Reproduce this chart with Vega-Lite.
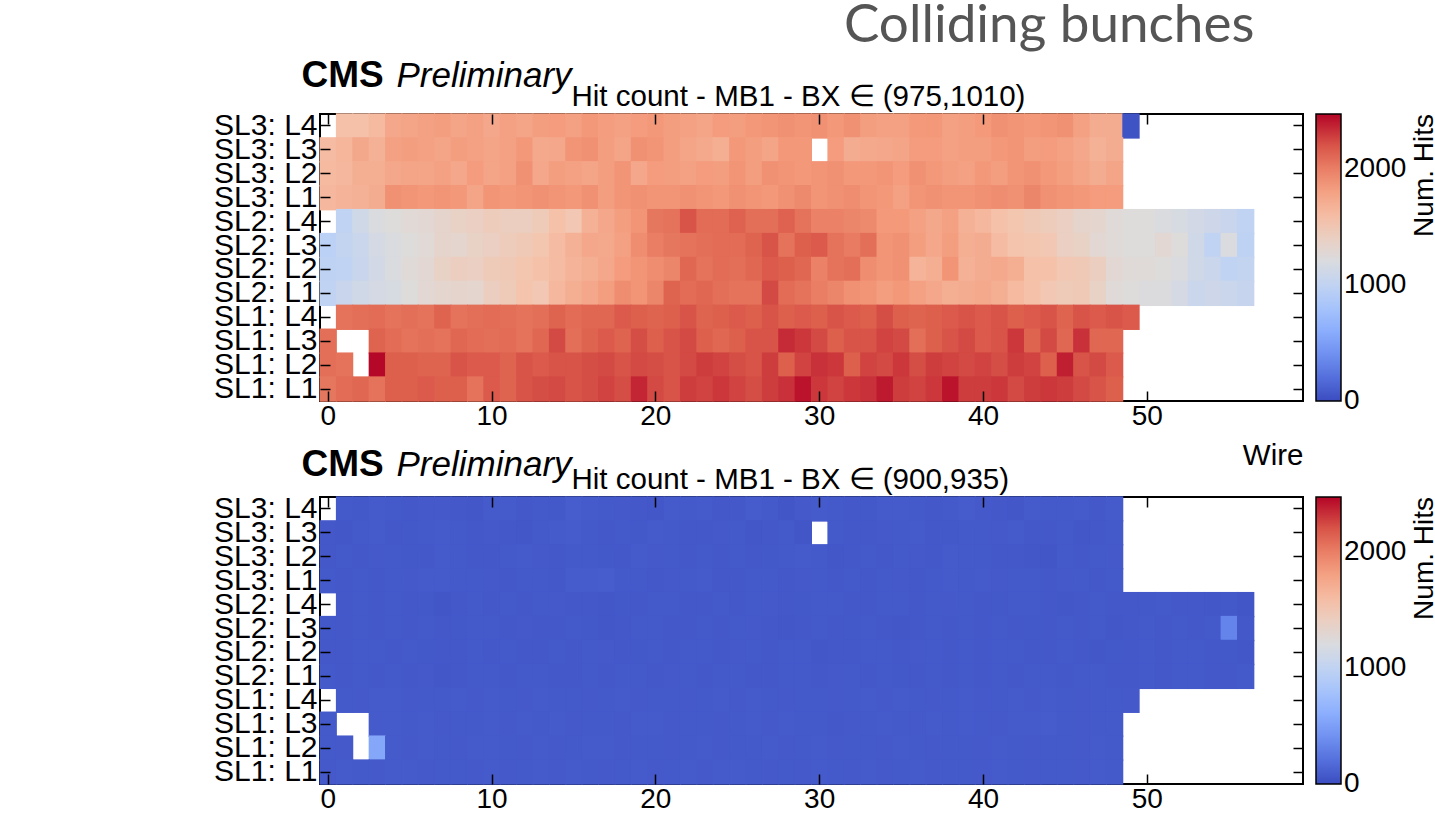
{
"$schema":"https://vega.github.io/schema/vega-lite/v6.json",
"background":"white",
"padding":{"left":212,"top":0,"right":0,"bottom":0},
"title":{"text":"Colliding bunches","font":"Lato","fontSize":53,"fontWeight":"normal","color":"#555555","anchor":"start","frame":"group","dx":524,"offset":2},
"config":{"font":"Liberation Sans","view":{"stroke":"black","strokeWidth":2},"axis":{"labelFont":"Liberation Sans","labelFontSize":28,"labelColor":"black","titleFont":"Liberation Sans","titleFontSize":29.5,"titleFontWeight":"normal","titleColor":"black","domain":false,"grid":false,"ticks":true,"tickColor":"black","tickWidth":1.5,"tickSize":-10}},
"spacing":96,
"bounds":"flush",
"resolve":{"scale":{"color":"independent"}},
"datasets":{
"a":[
{"r":11,"w":1,"v":1560},{"r":11,"w":2,"v":1560},{"r":11,"w":3,"v":1620},{"r":11,"w":4,"v":1760},{"r":11,"w":5,"v":1780},{"r":11,"w":6,"v":1800},{"r":11,"w":7,"v":1820},{"r":11,"w":8,"v":1780},{"r":11,"w":9,"v":1800},{"r":11,"w":10,"v":1760},{"r":11,"w":11,"v":1800},{"r":11,"w":12,"v":1780},{"r":11,"w":13,"v":1820},{"r":11,"w":14,"v":1840},{"r":11,"w":15,"v":1800},{"r":11,"w":16,"v":1860},{"r":11,"w":17,"v":1830},{"r":11,"w":18,"v":1800},{"r":11,"w":19,"v":1840},{"r":11,"w":20,"v":1860},{"r":11,"w":21,"v":1820},{"r":11,"w":22,"v":1800},{"r":11,"w":23,"v":1780},{"r":11,"w":24,"v":1840},{"r":11,"w":25,"v":1820},{"r":11,"w":26,"v":1860},{"r":11,"w":27,"v":1880},{"r":11,"w":28,"v":1900},{"r":11,"w":29,"v":1880},{"r":11,"w":30,"v":1900},{"r":11,"w":31,"v":1860},{"r":11,"w":32,"v":1900},{"r":11,"w":33,"v":1820},{"r":11,"w":34,"v":1800},{"r":11,"w":35,"v":1800},{"r":11,"w":36,"v":1850},{"r":11,"w":37,"v":1860},{"r":11,"w":38,"v":1800},{"r":11,"w":39,"v":1820},{"r":11,"w":40,"v":1850},{"r":11,"w":41,"v":1900},{"r":11,"w":42,"v":1880},{"r":11,"w":43,"v":1860},{"r":11,"w":44,"v":1880},{"r":11,"w":45,"v":1900},{"r":11,"w":46,"v":1800},{"r":11,"w":47,"v":1720},{"r":11,"w":48,"v":1720},{"r":11,"w":49,"v":40},
{"r":10,"w":0,"v":1600},{"r":10,"w":1,"v":1650},{"r":10,"w":2,"v":1750},{"r":10,"w":3,"v":1680},{"r":10,"w":4,"v":1800},{"r":10,"w":5,"v":1820},{"r":10,"w":6,"v":1800},{"r":10,"w":7,"v":1780},{"r":10,"w":8,"v":1820},{"r":10,"w":9,"v":1800},{"r":10,"w":10,"v":1780},{"r":10,"w":11,"v":1800},{"r":10,"w":12,"v":1860},{"r":10,"w":13,"v":1740},{"r":10,"w":14,"v":1760},{"r":10,"w":15,"v":1880},{"r":10,"w":16,"v":1900},{"r":10,"w":17,"v":1820},{"r":10,"w":18,"v":1780},{"r":10,"w":19,"v":1900},{"r":10,"w":20,"v":1880},{"r":10,"w":21,"v":1820},{"r":10,"w":22,"v":1780},{"r":10,"w":23,"v":1740},{"r":10,"w":24,"v":1700},{"r":10,"w":25,"v":1860},{"r":10,"w":26,"v":1820},{"r":10,"w":27,"v":1780},{"r":10,"w":28,"v":1860},{"r":10,"w":29,"v":1860},{"r":10,"w":31,"v":1840},{"r":10,"w":32,"v":1720},{"r":10,"w":33,"v":1740},{"r":10,"w":34,"v":1760},{"r":10,"w":35,"v":1780},{"r":10,"w":36,"v":1840},{"r":10,"w":37,"v":1840},{"r":10,"w":38,"v":1800},{"r":10,"w":39,"v":1820},{"r":10,"w":40,"v":1820},{"r":10,"w":41,"v":1860},{"r":10,"w":42,"v":1880},{"r":10,"w":43,"v":1820},{"r":10,"w":44,"v":1840},{"r":10,"w":45,"v":1800},{"r":10,"w":46,"v":1760},{"r":10,"w":47,"v":1680},{"r":10,"w":48,"v":1720},
{"r":9,"w":0,"v":1620},{"r":9,"w":1,"v":1640},{"r":9,"w":2,"v":1700},{"r":9,"w":3,"v":1700},{"r":9,"w":4,"v":1760},{"r":9,"w":5,"v":1780},{"r":9,"w":6,"v":1780},{"r":9,"w":7,"v":1800},{"r":9,"w":8,"v":1760},{"r":9,"w":9,"v":1840},{"r":9,"w":10,"v":1780},{"r":9,"w":11,"v":1800},{"r":9,"w":12,"v":1900},{"r":9,"w":13,"v":1760},{"r":9,"w":14,"v":1820},{"r":9,"w":15,"v":1800},{"r":9,"w":16,"v":1780},{"r":9,"w":17,"v":1820},{"r":9,"w":18,"v":1880},{"r":9,"w":19,"v":1760},{"r":9,"w":20,"v":1840},{"r":9,"w":21,"v":1820},{"r":9,"w":22,"v":1800},{"r":9,"w":23,"v":1840},{"r":9,"w":24,"v":1820},{"r":9,"w":25,"v":1880},{"r":9,"w":26,"v":1820},{"r":9,"w":27,"v":1900},{"r":9,"w":28,"v":1880},{"r":9,"w":29,"v":1860},{"r":9,"w":30,"v":1880},{"r":9,"w":31,"v":1900},{"r":9,"w":32,"v":1860},{"r":9,"w":33,"v":1860},{"r":9,"w":34,"v":1880},{"r":9,"w":35,"v":1840},{"r":9,"w":36,"v":1900},{"r":9,"w":37,"v":1860},{"r":9,"w":38,"v":1820},{"r":9,"w":39,"v":1800},{"r":9,"w":40,"v":1860},{"r":9,"w":41,"v":1820},{"r":9,"w":42,"v":1880},{"r":9,"w":43,"v":1900},{"r":9,"w":44,"v":1860},{"r":9,"w":45,"v":1820},{"r":9,"w":46,"v":1780},{"r":9,"w":47,"v":1720},{"r":9,"w":48,"v":1780},
{"r":8,"w":0,"v":1640},{"r":8,"w":1,"v":1660},{"r":8,"w":2,"v":1680},{"r":8,"w":3,"v":1720},{"r":8,"w":4,"v":1900},{"r":8,"w":5,"v":1880},{"r":8,"w":6,"v":1860},{"r":8,"w":7,"v":1880},{"r":8,"w":8,"v":1860},{"r":8,"w":9,"v":1780},{"r":8,"w":10,"v":1880},{"r":8,"w":11,"v":1860},{"r":8,"w":12,"v":1880},{"r":8,"w":13,"v":1900},{"r":8,"w":14,"v":1880},{"r":8,"w":15,"v":1860},{"r":8,"w":16,"v":1900},{"r":8,"w":17,"v":1820},{"r":8,"w":18,"v":1880},{"r":8,"w":19,"v":1900},{"r":8,"w":20,"v":1880},{"r":8,"w":21,"v":1880},{"r":8,"w":22,"v":1900},{"r":8,"w":23,"v":1880},{"r":8,"w":24,"v":1860},{"r":8,"w":25,"v":1900},{"r":8,"w":26,"v":1880},{"r":8,"w":27,"v":1860},{"r":8,"w":28,"v":1900},{"r":8,"w":29,"v":1940},{"r":8,"w":30,"v":1880},{"r":8,"w":31,"v":1900},{"r":8,"w":32,"v":1920},{"r":8,"w":33,"v":1880},{"r":8,"w":34,"v":1860},{"r":8,"w":35,"v":1800},{"r":8,"w":36,"v":1880},{"r":8,"w":37,"v":1900},{"r":8,"w":38,"v":1880},{"r":8,"w":39,"v":1880},{"r":8,"w":40,"v":1900},{"r":8,"w":41,"v":1920},{"r":8,"w":42,"v":1900},{"r":8,"w":43,"v":1960},{"r":8,"w":44,"v":1900},{"r":8,"w":45,"v":1880},{"r":8,"w":46,"v":1860},{"r":8,"w":47,"v":1840},{"r":8,"w":48,"v":1840},
{"r":7,"w":1,"v":1000},{"r":7,"w":2,"v":1120},{"r":7,"w":3,"v":1200},{"r":7,"w":4,"v":1240},{"r":7,"w":5,"v":1280},{"r":7,"w":6,"v":1300},{"r":7,"w":7,"v":1340},{"r":7,"w":8,"v":1380},{"r":7,"w":9,"v":1400},{"r":7,"w":10,"v":1440},{"r":7,"w":11,"v":1420},{"r":7,"w":12,"v":1420},{"r":7,"w":13,"v":1460},{"r":7,"w":14,"v":1560},{"r":7,"w":15,"v":1500},{"r":7,"w":16,"v":1680},{"r":7,"w":17,"v":1760},{"r":7,"w":18,"v":1820},{"r":7,"w":19,"v":1880},{"r":7,"w":20,"v":2040},{"r":7,"w":21,"v":2060},{"r":7,"w":22,"v":2200},{"r":7,"w":23,"v":2100},{"r":7,"w":24,"v":2100},{"r":7,"w":25,"v":2150},{"r":7,"w":26,"v":2080},{"r":7,"w":27,"v":2080},{"r":7,"w":28,"v":2150},{"r":7,"w":29,"v":2060},{"r":7,"w":30,"v":1980},{"r":7,"w":31,"v":1980},{"r":7,"w":32,"v":1960},{"r":7,"w":33,"v":1940},{"r":7,"w":34,"v":1850},{"r":7,"w":35,"v":1850},{"r":7,"w":36,"v":1800},{"r":7,"w":37,"v":1750},{"r":7,"w":38,"v":1800},{"r":7,"w":39,"v":1680},{"r":7,"w":40,"v":1640},{"r":7,"w":41,"v":1560},{"r":7,"w":42,"v":1520},{"r":7,"w":43,"v":1480},{"r":7,"w":44,"v":1440},{"r":7,"w":45,"v":1400},{"r":7,"w":46,"v":1340},{"r":7,"w":47,"v":1320},{"r":7,"w":48,"v":1260},{"r":7,"w":49,"v":1240},{"r":7,"w":50,"v":1240},{"r":7,"w":51,"v":1200},{"r":7,"w":52,"v":1180},{"r":7,"w":53,"v":1140},{"r":7,"w":54,"v":1100},{"r":7,"w":55,"v":1060},{"r":7,"w":56,"v":1000},
{"r":6,"w":0,"v":960},{"r":6,"w":1,"v":1020},{"r":6,"w":2,"v":1080},{"r":6,"w":3,"v":1160},{"r":6,"w":4,"v":1200},{"r":6,"w":5,"v":1240},{"r":6,"w":6,"v":1280},{"r":6,"w":7,"v":1340},{"r":6,"w":8,"v":1320},{"r":6,"w":9,"v":1380},{"r":6,"w":10,"v":1400},{"r":6,"w":11,"v":1440},{"r":6,"w":12,"v":1480},{"r":6,"w":13,"v":1520},{"r":6,"w":14,"v":1600},{"r":6,"w":15,"v":1680},{"r":6,"w":16,"v":1760},{"r":6,"w":17,"v":1740},{"r":6,"w":18,"v":1800},{"r":6,"w":19,"v":1920},{"r":6,"w":20,"v":2000},{"r":6,"w":21,"v":2040},{"r":6,"w":22,"v":2060},{"r":6,"w":23,"v":2080},{"r":6,"w":24,"v":2100},{"r":6,"w":25,"v":2100},{"r":6,"w":26,"v":2140},{"r":6,"w":27,"v":2200},{"r":6,"w":28,"v":2060},{"r":6,"w":29,"v":2160},{"r":6,"w":30,"v":2180},{"r":6,"w":31,"v":2060},{"r":6,"w":32,"v":2020},{"r":6,"w":33,"v":2080},{"r":6,"w":34,"v":1880},{"r":6,"w":35,"v":1900},{"r":6,"w":36,"v":1820},{"r":6,"w":37,"v":1760},{"r":6,"w":38,"v":1820},{"r":6,"w":39,"v":1700},{"r":6,"w":40,"v":1720},{"r":6,"w":41,"v":1600},{"r":6,"w":42,"v":1540},{"r":6,"w":43,"v":1520},{"r":6,"w":44,"v":1500},{"r":6,"w":45,"v":1400},{"r":6,"w":46,"v":1380},{"r":6,"w":47,"v":1300},{"r":6,"w":48,"v":1260},{"r":6,"w":49,"v":1240},{"r":6,"w":50,"v":1240},{"r":6,"w":51,"v":1300},{"r":6,"w":52,"v":1240},{"r":6,"w":53,"v":1120},{"r":6,"w":54,"v":1000},{"r":6,"w":55,"v":1200},{"r":6,"w":56,"v":980},
{"r":5,"w":0,"v":980},{"r":5,"w":1,"v":1000},{"r":5,"w":2,"v":1060},{"r":5,"w":3,"v":1140},{"r":5,"w":4,"v":1200},{"r":5,"w":5,"v":1260},{"r":5,"w":6,"v":1300},{"r":5,"w":7,"v":1380},{"r":5,"w":8,"v":1420},{"r":5,"w":9,"v":1400},{"r":5,"w":10,"v":1460},{"r":5,"w":11,"v":1480},{"r":5,"w":12,"v":1520},{"r":5,"w":13,"v":1560},{"r":5,"w":14,"v":1600},{"r":5,"w":15,"v":1660},{"r":5,"w":16,"v":1700},{"r":5,"w":17,"v":1760},{"r":5,"w":18,"v":1840},{"r":5,"w":19,"v":1880},{"r":5,"w":20,"v":1920},{"r":5,"w":21,"v":1960},{"r":5,"w":22,"v":2120},{"r":5,"w":23,"v":2060},{"r":5,"w":24,"v":2100},{"r":5,"w":25,"v":2080},{"r":5,"w":26,"v":2120},{"r":5,"w":27,"v":2180},{"r":5,"w":28,"v":2160},{"r":5,"w":29,"v":2120},{"r":5,"w":30,"v":1980},{"r":5,"w":31,"v":2060},{"r":5,"w":32,"v":2080},{"r":5,"w":33,"v":1920},{"r":5,"w":34,"v":1880},{"r":5,"w":35,"v":1900},{"r":5,"w":36,"v":1660},{"r":5,"w":37,"v":1700},{"r":5,"w":38,"v":1880},{"r":5,"w":39,"v":1680},{"r":5,"w":40,"v":1720},{"r":5,"w":41,"v":1740},{"r":5,"w":42,"v":1700},{"r":5,"w":43,"v":1560},{"r":5,"w":44,"v":1560},{"r":5,"w":45,"v":1500},{"r":5,"w":46,"v":1480},{"r":5,"w":47,"v":1420},{"r":5,"w":48,"v":1300},{"r":5,"w":49,"v":1260},{"r":5,"w":50,"v":1260},{"r":5,"w":51,"v":1240},{"r":5,"w":52,"v":1200},{"r":5,"w":53,"v":1120},{"r":5,"w":54,"v":1080},{"r":5,"w":55,"v":1000},{"r":5,"w":56,"v":1020},
{"r":4,"w":0,"v":1000},{"r":4,"w":1,"v":1060},{"r":4,"w":2,"v":1120},{"r":4,"w":3,"v":1160},{"r":4,"w":4,"v":1180},{"r":4,"w":5,"v":1240},{"r":4,"w":6,"v":1300},{"r":4,"w":7,"v":1320},{"r":4,"w":8,"v":1340},{"r":4,"w":9,"v":1320},{"r":4,"w":10,"v":1420},{"r":4,"w":11,"v":1460},{"r":4,"w":12,"v":1540},{"r":4,"w":13,"v":1500},{"r":4,"w":14,"v":1640},{"r":4,"w":15,"v":1700},{"r":4,"w":16,"v":1760},{"r":4,"w":17,"v":1820},{"r":4,"w":18,"v":1920},{"r":4,"w":19,"v":1880},{"r":4,"w":20,"v":1960},{"r":4,"w":21,"v":2140},{"r":4,"w":22,"v":2100},{"r":4,"w":23,"v":2120},{"r":4,"w":24,"v":2080},{"r":4,"w":25,"v":2060},{"r":4,"w":26,"v":2060},{"r":4,"w":27,"v":2240},{"r":4,"w":28,"v":2100},{"r":4,"w":29,"v":2060},{"r":4,"w":30,"v":2000},{"r":4,"w":31,"v":1960},{"r":4,"w":32,"v":1900},{"r":4,"w":33,"v":1880},{"r":4,"w":34,"v":1820},{"r":4,"w":35,"v":1860},{"r":4,"w":36,"v":1800},{"r":4,"w":37,"v":1760},{"r":4,"w":38,"v":1700},{"r":4,"w":39,"v":1720},{"r":4,"w":40,"v":1740},{"r":4,"w":41,"v":1700},{"r":4,"w":42,"v":1620},{"r":4,"w":43,"v":1560},{"r":4,"w":44,"v":1500},{"r":4,"w":45,"v":1460},{"r":4,"w":46,"v":1480},{"r":4,"w":47,"v":1380},{"r":4,"w":48,"v":1260},{"r":4,"w":49,"v":1240},{"r":4,"w":50,"v":1220},{"r":4,"w":51,"v":1220},{"r":4,"w":52,"v":1160},{"r":4,"w":53,"v":1080},{"r":4,"w":54,"v":1100},{"r":4,"w":55,"v":1080},{"r":4,"w":56,"v":1040},
{"r":3,"w":1,"v":2060},{"r":3,"w":2,"v":2080},{"r":3,"w":3,"v":2100},{"r":3,"w":4,"v":2060},{"r":3,"w":5,"v":2080},{"r":3,"w":6,"v":2060},{"r":3,"w":7,"v":2140},{"r":3,"w":8,"v":2060},{"r":3,"w":9,"v":2080},{"r":3,"w":10,"v":2100},{"r":3,"w":11,"v":2080},{"r":3,"w":12,"v":2060},{"r":3,"w":13,"v":2080},{"r":3,"w":14,"v":2140},{"r":3,"w":15,"v":2100},{"r":3,"w":16,"v":2120},{"r":3,"w":17,"v":2120},{"r":3,"w":18,"v":2180},{"r":3,"w":19,"v":2160},{"r":3,"w":20,"v":2140},{"r":3,"w":21,"v":2160},{"r":3,"w":22,"v":2200},{"r":3,"w":23,"v":2140},{"r":3,"w":24,"v":2160},{"r":3,"w":25,"v":2180},{"r":3,"w":26,"v":2160},{"r":3,"w":27,"v":2200},{"r":3,"w":28,"v":2160},{"r":3,"w":29,"v":2180},{"r":3,"w":30,"v":2160},{"r":3,"w":31,"v":2200},{"r":3,"w":32,"v":2180},{"r":3,"w":33,"v":2160},{"r":3,"w":34,"v":2220},{"r":3,"w":35,"v":2160},{"r":3,"w":36,"v":2140},{"r":3,"w":37,"v":2160},{"r":3,"w":38,"v":2180},{"r":3,"w":39,"v":2200},{"r":3,"w":40,"v":2180},{"r":3,"w":41,"v":2200},{"r":3,"w":42,"v":2160},{"r":3,"w":43,"v":2180},{"r":3,"w":44,"v":2200},{"r":3,"w":45,"v":2140},{"r":3,"w":46,"v":2200},{"r":3,"w":47,"v":2180},{"r":3,"w":48,"v":2200},{"r":3,"w":49,"v":2180},
{"r":2,"w":0,"v":2080},{"r":2,"w":3,"v":2140},{"r":2,"w":4,"v":2100},{"r":2,"w":5,"v":2060},{"r":2,"w":6,"v":2080},{"r":2,"w":7,"v":2060},{"r":2,"w":8,"v":2120},{"r":2,"w":9,"v":2100},{"r":2,"w":10,"v":2080},{"r":2,"w":11,"v":2100},{"r":2,"w":12,"v":2060},{"r":2,"w":13,"v":2120},{"r":2,"w":14,"v":2240},{"r":2,"w":15,"v":2080},{"r":2,"w":16,"v":2140},{"r":2,"w":17,"v":2180},{"r":2,"w":18,"v":2140},{"r":2,"w":19,"v":2220},{"r":2,"w":20,"v":2160},{"r":2,"w":21,"v":2200},{"r":2,"w":22,"v":2240},{"r":2,"w":23,"v":2160},{"r":2,"w":24,"v":2120},{"r":2,"w":25,"v":2160},{"r":2,"w":26,"v":2200},{"r":2,"w":27,"v":2200},{"r":2,"w":28,"v":2340},{"r":2,"w":29,"v":2300},{"r":2,"w":30,"v":2240},{"r":2,"w":31,"v":2160},{"r":2,"w":32,"v":2200},{"r":2,"w":33,"v":2200},{"r":2,"w":34,"v":2260},{"r":2,"w":35,"v":2240},{"r":2,"w":36,"v":2080},{"r":2,"w":37,"v":2160},{"r":2,"w":38,"v":2200},{"r":2,"w":39,"v":2240},{"r":2,"w":40,"v":2180},{"r":2,"w":41,"v":2200},{"r":2,"w":42,"v":2300},{"r":2,"w":43,"v":2140},{"r":2,"w":44,"v":2240},{"r":2,"w":45,"v":2120},{"r":2,"w":46,"v":2320},{"r":2,"w":47,"v":2120},{"r":2,"w":48,"v":2120},
{"r":1,"w":0,"v":2080},{"r":1,"w":1,"v":2060},{"r":1,"w":3,"v":2460},{"r":1,"w":4,"v":2160},{"r":1,"w":5,"v":2160},{"r":1,"w":6,"v":2140},{"r":1,"w":7,"v":2140},{"r":1,"w":8,"v":2200},{"r":1,"w":9,"v":2180},{"r":1,"w":10,"v":2180},{"r":1,"w":11,"v":2140},{"r":1,"w":12,"v":2200},{"r":1,"w":13,"v":2180},{"r":1,"w":14,"v":2200},{"r":1,"w":15,"v":2200},{"r":1,"w":16,"v":2220},{"r":1,"w":17,"v":2240},{"r":1,"w":18,"v":2200},{"r":1,"w":19,"v":2240},{"r":1,"w":20,"v":2220},{"r":1,"w":21,"v":2200},{"r":1,"w":22,"v":2240},{"r":1,"w":23,"v":2280},{"r":1,"w":24,"v":2260},{"r":1,"w":25,"v":2220},{"r":1,"w":26,"v":2200},{"r":1,"w":27,"v":2280},{"r":1,"w":28,"v":2160},{"r":1,"w":29,"v":2260},{"r":1,"w":30,"v":2320},{"r":1,"w":31,"v":2300},{"r":1,"w":32,"v":2160},{"r":1,"w":33,"v":2260},{"r":1,"w":34,"v":2240},{"r":1,"w":35,"v":2300},{"r":1,"w":36,"v":2220},{"r":1,"w":37,"v":2280},{"r":1,"w":38,"v":2260},{"r":1,"w":39,"v":2240},{"r":1,"w":40,"v":2260},{"r":1,"w":41,"v":2220},{"r":1,"w":42,"v":2280},{"r":1,"w":43,"v":2260},{"r":1,"w":44,"v":2160},{"r":1,"w":45,"v":2380},{"r":1,"w":46,"v":2200},{"r":1,"w":47,"v":2240},{"r":1,"w":48,"v":2180},
{"r":0,"w":0,"v":2040},{"r":0,"w":1,"v":2100},{"r":0,"w":2,"v":2120},{"r":0,"w":3,"v":2060},{"r":0,"w":4,"v":2160},{"r":0,"w":5,"v":2160},{"r":0,"w":6,"v":2180},{"r":0,"w":7,"v":2160},{"r":0,"w":8,"v":2160},{"r":0,"w":9,"v":2060},{"r":0,"w":10,"v":2180},{"r":0,"w":11,"v":2140},{"r":0,"w":12,"v":2200},{"r":0,"w":13,"v":2220},{"r":0,"w":14,"v":2240},{"r":0,"w":15,"v":2200},{"r":0,"w":16,"v":2220},{"r":0,"w":17,"v":2260},{"r":0,"w":18,"v":2220},{"r":0,"w":19,"v":2360},{"r":0,"w":20,"v":2240},{"r":0,"w":21,"v":2200},{"r":0,"w":22,"v":2280},{"r":0,"w":23,"v":2260},{"r":0,"w":24,"v":2300},{"r":0,"w":25,"v":2260},{"r":0,"w":26,"v":2220},{"r":0,"w":27,"v":2280},{"r":0,"w":28,"v":2320},{"r":0,"w":29,"v":2420},{"r":0,"w":30,"v":2300},{"r":0,"w":31,"v":2260},{"r":0,"w":32,"v":2300},{"r":0,"w":33,"v":2320},{"r":0,"w":34,"v":2400},{"r":0,"w":35,"v":2280},{"r":0,"w":36,"v":2260},{"r":0,"w":37,"v":2300},{"r":0,"w":38,"v":2420},{"r":0,"w":39,"v":2280},{"r":0,"w":40,"v":2280},{"r":0,"w":41,"v":2300},{"r":0,"w":42,"v":2240},{"r":0,"w":43,"v":2280},{"r":0,"w":44,"v":2300},{"r":0,"w":45,"v":2280},{"r":0,"w":46,"v":2240},{"r":0,"w":47,"v":2200},{"r":0,"w":48,"v":2160}
],
"b":[
{"r":11,"w":1,"v":72},{"r":11,"w":2,"v":66},{"r":11,"w":3,"v":80},{"r":11,"w":4,"v":74},{"r":11,"w":5,"v":70},{"r":11,"w":6,"v":76},{"r":11,"w":7,"v":76},{"r":11,"w":8,"v":68},{"r":11,"w":9,"v":62},{"r":11,"w":10,"v":78},{"r":11,"w":11,"v":84},{"r":11,"w":12,"v":70},{"r":11,"w":13,"v":74},{"r":11,"w":14,"v":66},{"r":11,"w":15,"v":92},{"r":11,"w":16,"v":80},{"r":11,"w":17,"v":72},{"r":11,"w":18,"v":76},{"r":11,"w":19,"v":70},{"r":11,"w":20,"v":64},{"r":11,"w":21,"v":82},{"r":11,"w":22,"v":74},{"r":11,"w":23,"v":78},{"r":11,"w":24,"v":70},{"r":11,"w":25,"v":68},{"r":11,"w":26,"v":86},{"r":11,"w":27,"v":72},{"r":11,"w":28,"v":60},{"r":11,"w":29,"v":76},{"r":11,"w":30,"v":80},{"r":11,"w":31,"v":74},{"r":11,"w":32,"v":70},{"r":11,"w":33,"v":66},{"r":11,"w":34,"v":78},{"r":11,"w":35,"v":84},{"r":11,"w":36,"v":72},{"r":11,"w":37,"v":68},{"r":11,"w":38,"v":74},{"r":11,"w":39,"v":90},{"r":11,"w":40,"v":76},{"r":11,"w":41,"v":70},{"r":11,"w":42,"v":64},{"r":11,"w":43,"v":80},{"r":11,"w":44,"v":74},{"r":11,"w":45,"v":72},{"r":11,"w":46,"v":78},{"r":11,"w":47,"v":68},{"r":11,"w":48,"v":82},
{"r":10,"w":0,"v":70},{"r":10,"w":1,"v":64},{"r":10,"w":2,"v":72},{"r":10,"w":3,"v":78},{"r":10,"w":4,"v":70},{"r":10,"w":5,"v":66},{"r":10,"w":6,"v":74},{"r":10,"w":7,"v":80},{"r":10,"w":8,"v":72},{"r":10,"w":9,"v":68},{"r":10,"w":10,"v":76},{"r":10,"w":11,"v":70},{"r":10,"w":12,"v":62},{"r":10,"w":13,"v":74},{"r":10,"w":14,"v":80},{"r":10,"w":15,"v":86},{"r":10,"w":16,"v":72},{"r":10,"w":17,"v":70},{"r":10,"w":18,"v":74},{"r":10,"w":19,"v":66},{"r":10,"w":20,"v":78},{"r":10,"w":21,"v":72},{"r":10,"w":22,"v":70},{"r":10,"w":23,"v":68},{"r":10,"w":24,"v":76},{"r":10,"w":25,"v":74},{"r":10,"w":26,"v":62},{"r":10,"w":27,"v":70},{"r":10,"w":28,"v":72},{"r":10,"w":29,"v":60},{"r":10,"w":31,"v":74},{"r":10,"w":32,"v":70},{"r":10,"w":33,"v":68},{"r":10,"w":34,"v":76},{"r":10,"w":35,"v":72},{"r":10,"w":36,"v":78},{"r":10,"w":37,"v":70},{"r":10,"w":38,"v":66},{"r":10,"w":39,"v":74},{"r":10,"w":40,"v":72},{"r":10,"w":41,"v":76},{"r":10,"w":42,"v":80},{"r":10,"w":43,"v":70},{"r":10,"w":44,"v":68},{"r":10,"w":45,"v":74},{"r":10,"w":46,"v":62},{"r":10,"w":47,"v":70},{"r":10,"w":48,"v":72},
{"r":9,"w":0,"v":68},{"r":9,"w":1,"v":74},{"r":9,"w":2,"v":70},{"r":9,"w":3,"v":76},{"r":9,"w":4,"v":72},{"r":9,"w":5,"v":66},{"r":9,"w":6,"v":70},{"r":9,"w":7,"v":78},{"r":9,"w":8,"v":74},{"r":9,"w":9,"v":70},{"r":9,"w":10,"v":68},{"r":9,"w":11,"v":72},{"r":9,"w":12,"v":80},{"r":9,"w":13,"v":76},{"r":9,"w":14,"v":70},{"r":9,"w":15,"v":74},{"r":9,"w":16,"v":72},{"r":9,"w":17,"v":66},{"r":9,"w":18,"v":70},{"r":9,"w":19,"v":84},{"r":9,"w":20,"v":76},{"r":9,"w":21,"v":72},{"r":9,"w":22,"v":70},{"r":9,"w":23,"v":74},{"r":9,"w":24,"v":68},{"r":9,"w":25,"v":72},{"r":9,"w":26,"v":70},{"r":9,"w":27,"v":66},{"r":9,"w":28,"v":74},{"r":9,"w":29,"v":78},{"r":9,"w":30,"v":72},{"r":9,"w":31,"v":64},{"r":9,"w":32,"v":70},{"r":9,"w":33,"v":74},{"r":9,"w":34,"v":68},{"r":9,"w":35,"v":72},{"r":9,"w":36,"v":76},{"r":9,"w":37,"v":70},{"r":9,"w":38,"v":80},{"r":9,"w":39,"v":74},{"r":9,"w":40,"v":72},{"r":9,"w":41,"v":68},{"r":9,"w":42,"v":70},{"r":9,"w":43,"v":62},{"r":9,"w":44,"v":60},{"r":9,"w":45,"v":74},{"r":9,"w":46,"v":70},{"r":9,"w":47,"v":72},{"r":9,"w":48,"v":76},
{"r":8,"w":0,"v":74},{"r":8,"w":1,"v":70},{"r":8,"w":2,"v":72},{"r":8,"w":3,"v":68},{"r":8,"w":4,"v":74},{"r":8,"w":5,"v":76},{"r":8,"w":6,"v":80},{"r":8,"w":7,"v":78},{"r":8,"w":8,"v":72},{"r":8,"w":9,"v":74},{"r":8,"w":10,"v":76},{"r":8,"w":11,"v":70},{"r":8,"w":12,"v":72},{"r":8,"w":13,"v":74},{"r":8,"w":14,"v":70},{"r":8,"w":15,"v":88},{"r":8,"w":16,"v":90},{"r":8,"w":17,"v":92},{"r":8,"w":18,"v":72},{"r":8,"w":19,"v":74},{"r":8,"w":20,"v":70},{"r":8,"w":21,"v":76},{"r":8,"w":22,"v":72},{"r":8,"w":23,"v":78},{"r":8,"w":24,"v":70},{"r":8,"w":25,"v":68},{"r":8,"w":26,"v":74},{"r":8,"w":27,"v":72},{"r":8,"w":28,"v":70},{"r":8,"w":29,"v":76},{"r":8,"w":30,"v":74},{"r":8,"w":31,"v":70},{"r":8,"w":32,"v":72},{"r":8,"w":33,"v":68},{"r":8,"w":34,"v":74},{"r":8,"w":35,"v":76},{"r":8,"w":36,"v":70},{"r":8,"w":37,"v":72},{"r":8,"w":38,"v":80},{"r":8,"w":39,"v":74},{"r":8,"w":40,"v":78},{"r":8,"w":41,"v":76},{"r":8,"w":42,"v":72},{"r":8,"w":43,"v":74},{"r":8,"w":44,"v":70},{"r":8,"w":45,"v":76},{"r":8,"w":46,"v":72},{"r":8,"w":47,"v":70},{"r":8,"w":48,"v":74},
{"r":7,"w":1,"v":70},{"r":7,"w":2,"v":72},{"r":7,"w":3,"v":68},{"r":7,"w":4,"v":74},{"r":7,"w":5,"v":70},{"r":7,"w":6,"v":66},{"r":7,"w":7,"v":60},{"r":7,"w":8,"v":70},{"r":7,"w":9,"v":72},{"r":7,"w":10,"v":68},{"r":7,"w":11,"v":74},{"r":7,"w":12,"v":70},{"r":7,"w":13,"v":72},{"r":7,"w":14,"v":76},{"r":7,"w":15,"v":70},{"r":7,"w":16,"v":68},{"r":7,"w":17,"v":64},{"r":7,"w":18,"v":66},{"r":7,"w":19,"v":70},{"r":7,"w":20,"v":72},{"r":7,"w":21,"v":74},{"r":7,"w":22,"v":70},{"r":7,"w":23,"v":68},{"r":7,"w":24,"v":72},{"r":7,"w":25,"v":70},{"r":7,"w":26,"v":74},{"r":7,"w":27,"v":76},{"r":7,"w":28,"v":70},{"r":7,"w":29,"v":66},{"r":7,"w":30,"v":72},{"r":7,"w":31,"v":74},{"r":7,"w":32,"v":70},{"r":7,"w":33,"v":68},{"r":7,"w":34,"v":72},{"r":7,"w":35,"v":74},{"r":7,"w":36,"v":70},{"r":7,"w":37,"v":72},{"r":7,"w":38,"v":76},{"r":7,"w":39,"v":74},{"r":7,"w":40,"v":70},{"r":7,"w":41,"v":66},{"r":7,"w":42,"v":72},{"r":7,"w":43,"v":74},{"r":7,"w":44,"v":70},{"r":7,"w":45,"v":62},{"r":7,"w":46,"v":70},{"r":7,"w":47,"v":72},{"r":7,"w":48,"v":68},{"r":7,"w":49,"v":70},{"r":7,"w":50,"v":66},{"r":7,"w":51,"v":72},{"r":7,"w":52,"v":68},{"r":7,"w":53,"v":70},{"r":7,"w":54,"v":64},{"r":7,"w":55,"v":66},{"r":7,"w":56,"v":60},
{"r":6,"w":0,"v":66},{"r":6,"w":1,"v":70},{"r":6,"w":2,"v":72},{"r":6,"w":3,"v":68},{"r":6,"w":4,"v":74},{"r":6,"w":5,"v":70},{"r":6,"w":6,"v":72},{"r":6,"w":7,"v":70},{"r":6,"w":8,"v":66},{"r":6,"w":9,"v":74},{"r":6,"w":10,"v":72},{"r":6,"w":11,"v":70},{"r":6,"w":12,"v":76},{"r":6,"w":13,"v":70},{"r":6,"w":14,"v":68},{"r":6,"w":15,"v":74},{"r":6,"w":16,"v":66},{"r":6,"w":17,"v":62},{"r":6,"w":18,"v":70},{"r":6,"w":19,"v":72},{"r":6,"w":20,"v":74},{"r":6,"w":21,"v":68},{"r":6,"w":22,"v":70},{"r":6,"w":23,"v":72},{"r":6,"w":24,"v":70},{"r":6,"w":25,"v":74},{"r":6,"w":26,"v":76},{"r":6,"w":27,"v":70},{"r":6,"w":28,"v":62},{"r":6,"w":29,"v":68},{"r":6,"w":30,"v":74},{"r":6,"w":31,"v":70},{"r":6,"w":32,"v":66},{"r":6,"w":33,"v":72},{"r":6,"w":34,"v":70},{"r":6,"w":35,"v":64},{"r":6,"w":36,"v":70},{"r":6,"w":37,"v":72},{"r":6,"w":38,"v":68},{"r":6,"w":39,"v":74},{"r":6,"w":40,"v":70},{"r":6,"w":41,"v":72},{"r":6,"w":42,"v":68},{"r":6,"w":43,"v":66},{"r":6,"w":44,"v":70},{"r":6,"w":45,"v":74},{"r":6,"w":46,"v":70},{"r":6,"w":47,"v":72},{"r":6,"w":48,"v":62},{"r":6,"w":49,"v":70},{"r":6,"w":50,"v":72},{"r":6,"w":51,"v":70},{"r":6,"w":52,"v":74},{"r":6,"w":53,"v":68},{"r":6,"w":54,"v":72},{"r":6,"w":55,"v":320},{"r":6,"w":56,"v":70},
{"r":5,"w":0,"v":70},{"r":5,"w":1,"v":68},{"r":5,"w":2,"v":72},{"r":5,"w":3,"v":74},{"r":5,"w":4,"v":70},{"r":5,"w":5,"v":72},{"r":5,"w":6,"v":66},{"r":5,"w":7,"v":70},{"r":5,"w":8,"v":68},{"r":5,"w":9,"v":74},{"r":5,"w":10,"v":70},{"r":5,"w":11,"v":72},{"r":5,"w":12,"v":70},{"r":5,"w":13,"v":68},{"r":5,"w":14,"v":74},{"r":5,"w":15,"v":70},{"r":5,"w":16,"v":72},{"r":5,"w":17,"v":76},{"r":5,"w":18,"v":70},{"r":5,"w":19,"v":66},{"r":5,"w":20,"v":72},{"r":5,"w":21,"v":70},{"r":5,"w":22,"v":74},{"r":5,"w":23,"v":72},{"r":5,"w":24,"v":70},{"r":5,"w":25,"v":76},{"r":5,"w":26,"v":72},{"r":5,"w":27,"v":68},{"r":5,"w":28,"v":74},{"r":5,"w":29,"v":72},{"r":5,"w":30,"v":62},{"r":5,"w":31,"v":68},{"r":5,"w":32,"v":70},{"r":5,"w":33,"v":74},{"r":5,"w":34,"v":72},{"r":5,"w":35,"v":70},{"r":5,"w":36,"v":76},{"r":5,"w":37,"v":74},{"r":5,"w":38,"v":70},{"r":5,"w":39,"v":72},{"r":5,"w":40,"v":70},{"r":5,"w":41,"v":74},{"r":5,"w":42,"v":72},{"r":5,"w":43,"v":70},{"r":5,"w":44,"v":68},{"r":5,"w":45,"v":72},{"r":5,"w":46,"v":70},{"r":5,"w":47,"v":62},{"r":5,"w":48,"v":66},{"r":5,"w":49,"v":70},{"r":5,"w":50,"v":72},{"r":5,"w":51,"v":68},{"r":5,"w":52,"v":74},{"r":5,"w":53,"v":72},{"r":5,"w":54,"v":70},{"r":5,"w":55,"v":66},{"r":5,"w":56,"v":64},
{"r":4,"w":0,"v":72},{"r":4,"w":1,"v":70},{"r":4,"w":2,"v":74},{"r":4,"w":3,"v":68},{"r":4,"w":4,"v":72},{"r":4,"w":5,"v":70},{"r":4,"w":6,"v":76},{"r":4,"w":7,"v":62},{"r":4,"w":8,"v":70},{"r":4,"w":9,"v":72},{"r":4,"w":10,"v":74},{"r":4,"w":11,"v":70},{"r":4,"w":12,"v":72},{"r":4,"w":13,"v":74},{"r":4,"w":14,"v":70},{"r":4,"w":15,"v":68},{"r":4,"w":16,"v":72},{"r":4,"w":17,"v":70},{"r":4,"w":18,"v":74},{"r":4,"w":19,"v":72},{"r":4,"w":20,"v":70},{"r":4,"w":21,"v":76},{"r":4,"w":22,"v":72},{"r":4,"w":23,"v":70},{"r":4,"w":24,"v":74},{"r":4,"w":25,"v":72},{"r":4,"w":26,"v":68},{"r":4,"w":27,"v":70},{"r":4,"w":28,"v":74},{"r":4,"w":29,"v":72},{"r":4,"w":30,"v":70},{"r":4,"w":31,"v":76},{"r":4,"w":32,"v":72},{"r":4,"w":33,"v":70},{"r":4,"w":34,"v":74},{"r":4,"w":35,"v":66},{"r":4,"w":36,"v":70},{"r":4,"w":37,"v":72},{"r":4,"w":38,"v":68},{"r":4,"w":39,"v":74},{"r":4,"w":40,"v":70},{"r":4,"w":41,"v":72},{"r":4,"w":42,"v":70},{"r":4,"w":43,"v":74},{"r":4,"w":44,"v":72},{"r":4,"w":45,"v":70},{"r":4,"w":46,"v":72},{"r":4,"w":47,"v":74},{"r":4,"w":48,"v":70},{"r":4,"w":49,"v":68},{"r":4,"w":50,"v":72},{"r":4,"w":51,"v":70},{"r":4,"w":52,"v":74},{"r":4,"w":53,"v":72},{"r":4,"w":54,"v":68},{"r":4,"w":55,"v":70},{"r":4,"w":56,"v":72},
{"r":3,"w":1,"v":74},{"r":3,"w":2,"v":76},{"r":3,"w":3,"v":80},{"r":3,"w":4,"v":78},{"r":3,"w":5,"v":76},{"r":3,"w":6,"v":72},{"r":3,"w":7,"v":74},{"r":3,"w":8,"v":78},{"r":3,"w":9,"v":76},{"r":3,"w":10,"v":80},{"r":3,"w":11,"v":74},{"r":3,"w":12,"v":76},{"r":3,"w":13,"v":78},{"r":3,"w":14,"v":74},{"r":3,"w":15,"v":72},{"r":3,"w":16,"v":76},{"r":3,"w":17,"v":74},{"r":3,"w":18,"v":78},{"r":3,"w":19,"v":76},{"r":3,"w":20,"v":74},{"r":3,"w":21,"v":72},{"r":3,"w":22,"v":76},{"r":3,"w":23,"v":74},{"r":3,"w":24,"v":78},{"r":3,"w":25,"v":76},{"r":3,"w":26,"v":80},{"r":3,"w":27,"v":74},{"r":3,"w":28,"v":76},{"r":3,"w":29,"v":74},{"r":3,"w":30,"v":72},{"r":3,"w":31,"v":76},{"r":3,"w":32,"v":74},{"r":3,"w":33,"v":78},{"r":3,"w":34,"v":76},{"r":3,"w":35,"v":80},{"r":3,"w":36,"v":74},{"r":3,"w":37,"v":76},{"r":3,"w":38,"v":72},{"r":3,"w":39,"v":78},{"r":3,"w":40,"v":76},{"r":3,"w":41,"v":74},{"r":3,"w":42,"v":80},{"r":3,"w":43,"v":76},{"r":3,"w":44,"v":78},{"r":3,"w":45,"v":74},{"r":3,"w":46,"v":76},{"r":3,"w":47,"v":72},{"r":3,"w":48,"v":74},{"r":3,"w":49,"v":76},
{"r":2,"w":0,"v":74},{"r":2,"w":3,"v":80},{"r":2,"w":4,"v":78},{"r":2,"w":5,"v":74},{"r":2,"w":6,"v":84},{"r":2,"w":7,"v":76},{"r":2,"w":8,"v":72},{"r":2,"w":9,"v":74},{"r":2,"w":10,"v":78},{"r":2,"w":11,"v":76},{"r":2,"w":12,"v":80},{"r":2,"w":13,"v":74},{"r":2,"w":14,"v":78},{"r":2,"w":15,"v":76},{"r":2,"w":16,"v":74},{"r":2,"w":17,"v":72},{"r":2,"w":18,"v":76},{"r":2,"w":19,"v":80},{"r":2,"w":20,"v":78},{"r":2,"w":21,"v":76},{"r":2,"w":22,"v":74},{"r":2,"w":23,"v":72},{"r":2,"w":24,"v":76},{"r":2,"w":25,"v":74},{"r":2,"w":26,"v":82},{"r":2,"w":27,"v":76},{"r":2,"w":28,"v":78},{"r":2,"w":29,"v":74},{"r":2,"w":30,"v":72},{"r":2,"w":31,"v":70},{"r":2,"w":32,"v":76},{"r":2,"w":33,"v":74},{"r":2,"w":34,"v":78},{"r":2,"w":35,"v":74},{"r":2,"w":36,"v":76},{"r":2,"w":37,"v":80},{"r":2,"w":38,"v":74},{"r":2,"w":39,"v":78},{"r":2,"w":40,"v":72},{"r":2,"w":41,"v":76},{"r":2,"w":42,"v":80},{"r":2,"w":43,"v":78},{"r":2,"w":44,"v":86},{"r":2,"w":45,"v":74},{"r":2,"w":46,"v":76},{"r":2,"w":47,"v":72},{"r":2,"w":48,"v":74},
{"r":1,"w":0,"v":74},{"r":1,"w":1,"v":76},{"r":1,"w":3,"v":560},{"r":1,"w":4,"v":82},{"r":1,"w":5,"v":76},{"r":1,"w":6,"v":84},{"r":1,"w":7,"v":74},{"r":1,"w":8,"v":76},{"r":1,"w":9,"v":78},{"r":1,"w":10,"v":80},{"r":1,"w":11,"v":74},{"r":1,"w":12,"v":76},{"r":1,"w":13,"v":78},{"r":1,"w":14,"v":76},{"r":1,"w":15,"v":74},{"r":1,"w":16,"v":78},{"r":1,"w":17,"v":80},{"r":1,"w":18,"v":76},{"r":1,"w":19,"v":74},{"r":1,"w":20,"v":72},{"r":1,"w":21,"v":76},{"r":1,"w":22,"v":74},{"r":1,"w":23,"v":78},{"r":1,"w":24,"v":76},{"r":1,"w":25,"v":74},{"r":1,"w":26,"v":72},{"r":1,"w":27,"v":80},{"r":1,"w":28,"v":76},{"r":1,"w":29,"v":74},{"r":1,"w":30,"v":78},{"r":1,"w":31,"v":76},{"r":1,"w":32,"v":74},{"r":1,"w":33,"v":72},{"r":1,"w":34,"v":76},{"r":1,"w":35,"v":78},{"r":1,"w":36,"v":74},{"r":1,"w":37,"v":76},{"r":1,"w":38,"v":72},{"r":1,"w":39,"v":74},{"r":1,"w":40,"v":76},{"r":1,"w":41,"v":78},{"r":1,"w":42,"v":74},{"r":1,"w":43,"v":76},{"r":1,"w":44,"v":72},{"r":1,"w":45,"v":74},{"r":1,"w":46,"v":76},{"r":1,"w":47,"v":78},{"r":1,"w":48,"v":74},
{"r":0,"w":0,"v":76},{"r":0,"w":1,"v":78},{"r":0,"w":2,"v":74},{"r":0,"w":3,"v":76},{"r":0,"w":4,"v":80},{"r":0,"w":5,"v":78},{"r":0,"w":6,"v":76},{"r":0,"w":7,"v":74},{"r":0,"w":8,"v":72},{"r":0,"w":9,"v":76},{"r":0,"w":10,"v":78},{"r":0,"w":11,"v":76},{"r":0,"w":12,"v":74},{"r":0,"w":13,"v":80},{"r":0,"w":14,"v":76},{"r":0,"w":15,"v":78},{"r":0,"w":16,"v":74},{"r":0,"w":17,"v":76},{"r":0,"w":18,"v":72},{"r":0,"w":19,"v":78},{"r":0,"w":20,"v":76},{"r":0,"w":21,"v":74},{"r":0,"w":22,"v":78},{"r":0,"w":23,"v":76},{"r":0,"w":24,"v":80},{"r":0,"w":25,"v":78},{"r":0,"w":26,"v":74},{"r":0,"w":27,"v":76},{"r":0,"w":28,"v":72},{"r":0,"w":29,"v":76},{"r":0,"w":30,"v":78},{"r":0,"w":31,"v":74},{"r":0,"w":32,"v":76},{"r":0,"w":33,"v":80},{"r":0,"w":34,"v":76},{"r":0,"w":35,"v":74},{"r":0,"w":36,"v":78},{"r":0,"w":37,"v":76},{"r":0,"w":38,"v":72},{"r":0,"w":39,"v":74},{"r":0,"w":40,"v":76},{"r":0,"w":41,"v":78},{"r":0,"w":42,"v":74},{"r":0,"w":43,"v":76},{"r":0,"w":44,"v":72},{"r":0,"w":45,"v":74},{"r":0,"w":46,"v":76},{"r":0,"w":47,"v":78},{"r":0,"w":48,"v":74}
]
},
"vconcat":[
{
"width":983,"height":287,
"data":{"name":"a"},
"layer":[
{"mark":{"type":"rect","width":{"band":1.06},"height":{"band":1.06}},
"encoding":{
"x":{"field":"w","type":"ordinal","scale":{"domain":[0,1,2,3,4,5,6,7,8,9,10,11,12,13,14,15,16,17,18,19,20,21,22,23,24,25,26,27,28,29,30,31,32,33,34,35,36,37,38,39,40,41,42,43,44,45,46,47,48,49,50,51,52,53,54,55,56,57,58,59],"paddingInner":0,"paddingOuter":0},
"axis":{"orient":"bottom","values":[0,10,20,30,40,50],"labelAngle":0,"labelPadding":11,"title":"Wire","titleX":983,"titleY":63,"titleAlign":"right","titleBaseline":"alphabetic","titleAngle":0}},
"y":{"field":"r","type":"ordinal","scale":{"domain":[11,10,9,8,7,6,5,4,3,2,1,0],"paddingInner":0,"paddingOuter":0},
"axis":{"orient":"left","labelFontSize":30,"labelExpr":"['SL1: L1','SL1: L2','SL1: L3','SL1: L4','SL2: L1','SL2: L2','SL2: L3','SL2: L4','SL3: L1','SL3: L2','SL3: L3','SL3: L4'][datum.value]","labelPadding":13,"title":"Preliminary","titleFontStyle":"italic","titleFontSize":35,"titleAngle":0,"titleX":76,"titleY":-28,"titleAlign":"left","titleBaseline":"alphabetic"}},
"color":{"field":"v","type":"quantitative","scale":{"domain":[0,308.75,617.5,926.25,1235,1543.75,1852.5,2161.25,2470],"range":["#3b4cc0","#6282ea","#8db0fe","#b8d0f9","#dddcdc","#f5c4ac","#f49a7b","#dd604d","#b40426"],"interpolate":"rgb"},
"legend":{"title":"Num. Hits","format":"d","titleOrient":"right","titleAnchor":"end","titleFontSize":28,"titleFontWeight":"normal","titleFont":"Liberation Sans","titleColor":"black","gradientLength":287,"gradientThickness":25,"values":[0,1000,2000],"labelFontSize":28,"labelFont":"Liberation Sans","labelColor":"black","offset":12,"padding":0,"gradientStrokeColor":"black","gradientStrokeWidth":1.5,"labelOffset":3,"labelOverlap":false,"encode":{"title":{"update":{"angle":{"value":270},"align":{"value":"right"},"baseline":{"value":"top"}}},"labels":{"update":{"baseline":{"value":"middle"}}}}}}
}},
{"mark":{"type":"rect","opacity":0},
"encoding":{
"x":{"field":"w","type":"ordinal","axis":{"orient":"top","values":[0,10,20,30,40,50],"labels":false,"title":"Hit count - MB1 - BX ∈ (975,1010)","titleX":251,"titleY":-9,"titleAlign":"left","titleBaseline":"alphabetic","titleAngle":0}},
"y":{"field":"r","type":"ordinal","axis":{"orient":"right","labels":false,"title":"CMS","titleFontWeight":"bold","titleFontSize":37,"titleAngle":0,"titleX":-1002,"titleY":-28,"titleAlign":"left","titleBaseline":"alphabetic"}}
}}
],
"resolve":{"axis":{"x":"independent","y":"independent"}}
},
{
"width":983,"height":287,
"data":{"name":"b"},
"layer":[
{"mark":{"type":"rect","width":{"band":1.06},"height":{"band":1.06}},
"encoding":{
"x":{"field":"w","type":"ordinal","scale":{"domain":[0,1,2,3,4,5,6,7,8,9,10,11,12,13,14,15,16,17,18,19,20,21,22,23,24,25,26,27,28,29,30,31,32,33,34,35,36,37,38,39,40,41,42,43,44,45,46,47,48,49,50,51,52,53,54,55,56,57,58,59],"paddingInner":0,"paddingOuter":0},
"axis":{"orient":"bottom","values":[0,10,20,30,40,50],"labelAngle":0,"labelPadding":11,"title":"Wire","titleX":983,"titleY":63,"titleAlign":"right","titleBaseline":"alphabetic","titleAngle":0}},
"y":{"field":"r","type":"ordinal","scale":{"domain":[11,10,9,8,7,6,5,4,3,2,1,0],"paddingInner":0,"paddingOuter":0},
"axis":{"orient":"left","labelFontSize":30,"labelExpr":"['SL1: L1','SL1: L2','SL1: L3','SL1: L4','SL2: L1','SL2: L2','SL2: L3','SL2: L4','SL3: L1','SL3: L2','SL3: L3','SL3: L4'][datum.value]","labelPadding":13,"title":"Preliminary","titleFontStyle":"italic","titleFontSize":35,"titleAngle":0,"titleX":76,"titleY":-22,"titleAlign":"left","titleBaseline":"alphabetic"}},
"color":{"field":"v","type":"quantitative","scale":{"domain":[0,308.75,617.5,926.25,1235,1543.75,1852.5,2161.25,2470],"range":["#3b4cc0","#6282ea","#8db0fe","#b8d0f9","#dddcdc","#f5c4ac","#f49a7b","#dd604d","#b40426"],"interpolate":"rgb"},
"legend":{"title":"Num. Hits","format":"d","titleOrient":"right","titleAnchor":"end","titleFontSize":28,"titleFontWeight":"normal","titleFont":"Liberation Sans","titleColor":"black","gradientLength":287,"gradientThickness":25,"values":[0,1000,2000],"labelFontSize":28,"labelFont":"Liberation Sans","labelColor":"black","offset":12,"padding":0,"gradientStrokeColor":"black","gradientStrokeWidth":1.5,"labelOffset":3,"labelOverlap":false,"encode":{"title":{"update":{"angle":{"value":270},"align":{"value":"right"},"baseline":{"value":"top"}}},"labels":{"update":{"baseline":{"value":"middle"}}}}}}
}},
{"mark":{"type":"rect","opacity":0},
"encoding":{
"x":{"field":"w","type":"ordinal","axis":{"orient":"top","values":[0,10,20,30,40,50],"labels":false,"title":"Hit count - MB1 - BX ∈ (900,935)","titleX":251,"titleY":-9,"titleAlign":"left","titleBaseline":"alphabetic","titleAngle":0}},
"y":{"field":"r","type":"ordinal","axis":{"orient":"right","labels":false,"title":"CMS","titleFontWeight":"bold","titleFontSize":37,"titleAngle":0,"titleX":-1002,"titleY":-22,"titleAlign":"left","titleBaseline":"alphabetic"}}
}}
],
"resolve":{"axis":{"x":"independent","y":"independent"}}
}
]
}
